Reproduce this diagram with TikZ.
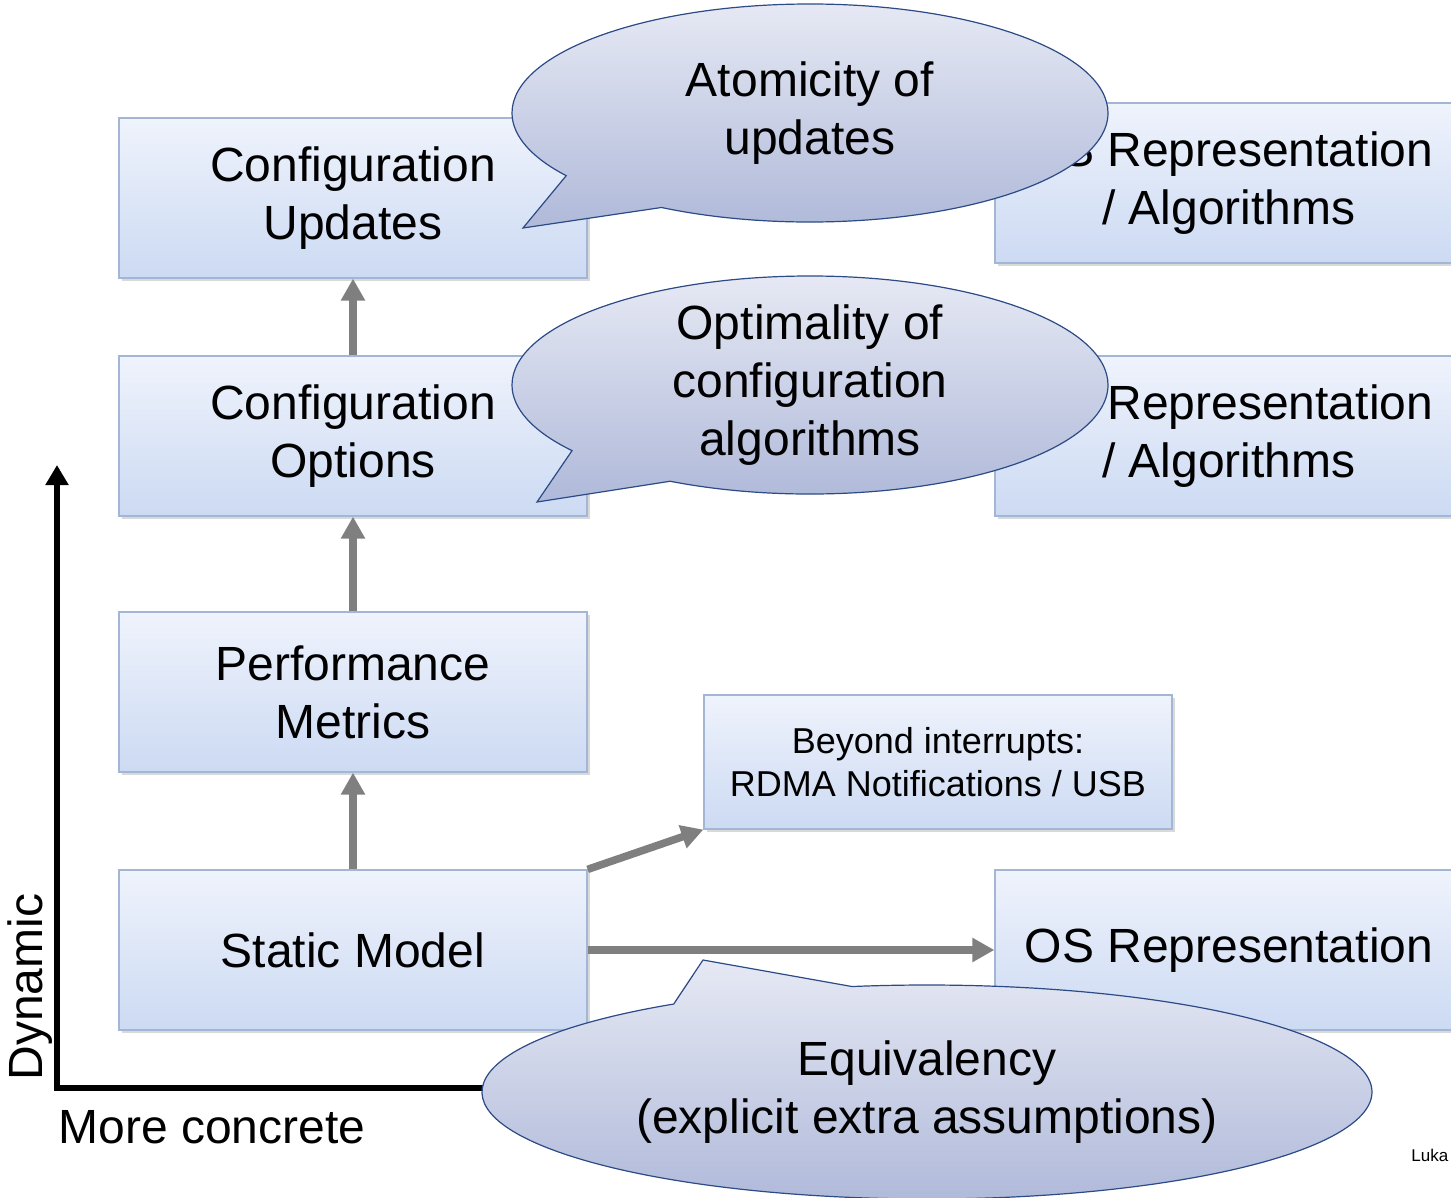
\documentclass[tikz,border=0pt]{standalone}
\usepackage{fontspec}
\setmainfont{Liberation Sans}
\usetikzlibrary{shapes.callouts,shadows,arrows.meta,positioning}

\definecolor{boxtop}{HTML}{EFF3FC}
\definecolor{boxbot}{HTML}{CCDAF3}
\definecolor{boxline}{HTML}{A3B6D6}
\definecolor{bubtop}{HTML}{E6E9F4}
\definecolor{bubbot}{HTML}{ADB7D8}
\definecolor{bubline}{HTML}{2C4A86}
\definecolor{flowgray}{HTML}{7F7F7F}

\begin{document}
\begin{tikzpicture}[%
	x=0.5pt, y=-0.5pt,
	node distance=129pt,
	box/.style={draw=boxline, line width=0.6pt, top color=boxtop, bottom color=boxbot, minimum width=234pt, minimum height=80pt, align=center, font=\fontsize{24}{29}\selectfont, drop shadow={opacity=0.3, shadow xshift=1.5pt, shadow yshift=-1.5pt}},
	smallbox/.style={box, minimum height=67pt, font=\fontsize{18}{21.5}\selectfont},
	bubble/.style={ellipse callout, draw=bubline, line width=0.6pt, top color=bubtop, bottom color=bubbot, align=center, font=\fontsize{24}{29}\selectfont, callout pointer arc=25, minimum width=298pt, minimum height=109pt, inner sep=0pt},
	flow/.style={draw=flowgray, line width=3.8pt, -{Triangle[width=11.5pt,length=11pt]}},
	axis/.style={draw=black, line width=3pt, -{Triangle[width=11pt,length=10pt]}}
]
\useasboundingbox (0,0) rectangle (1451,1198);

% left column
\node[box] (stat) at (353,950) {Static Model};
\node[box] (perf) [above of = stat] {Performance\\Metrics};
\node[box,node distance=128pt] (opts) [above of = perf] {Configuration\\Options};
\node[box,node distance=119pt] (upd) [above of = opts] {Configuration\\Updates};

% right column
\node[box] (osrep) at (1229,950) {OS Representation};
\node[box] (osalg2) at (1229,436) {OS Representation\\/ Algorithms};
\node[box] (osalg1) at (1229,183) {OS Representation\\/ Algorithms};
\node[smallbox] (rdma) at (938,762) {Beyond interrupts:\\RDMA Notifications / USB};

\path[flow] (stat) -- (perf);
\path[flow] (perf) -- (opts);
\path[flow] (opts) -- (upd);
\path[flow] (stat) -- (osrep);
\path[flow] (stat.north east) -- (rdma.south west);

% axes
\coordinate (origin) at (57,1088);
\coordinate (ytip) at (57,465);
\coordinate (xend) at (700,1088);
\path[axis] (xend) -- (origin) -- (ytip);
\node[rotate=90, font=\fontsize{24}{29}\selectfont] (dyn) at (30,987) {Dynamic};
\node[font=\fontsize{24}{29}\selectfont] (conc) at (212,1127) {More concrete};

% callouts
\node[bubble, callout absolute pointer={(523,228)}] (atom) at (810,113) {Atomicity of\\updates};
\node[bubble, inner ysep=-4pt, callout absolute pointer={(537,502)}] (optim) at (810,385) {Optimality of\\configuration\\algorithms};
\node[bubble, minimum width=445pt, minimum height=107pt, callout absolute pointer={(703,960)}] (equiv) at (927,1092) {Equivalency\\(explicit extra assumptions)};

\node[anchor=west, inner sep=0pt, font=\fontsize{8.5}{10}\selectfont] (auth) at (1411,1155) {Luka};

\end{tikzpicture}
\end{document}
